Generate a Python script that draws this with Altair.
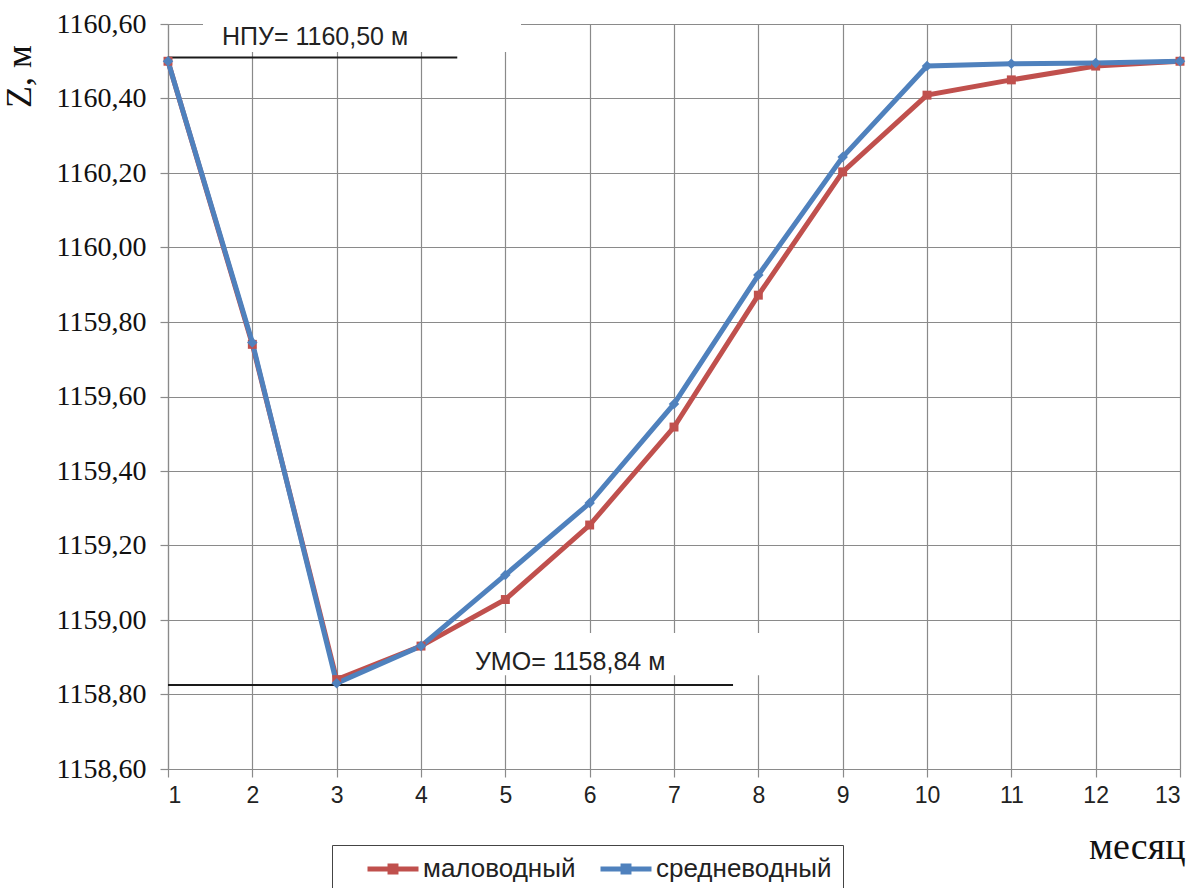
import altair as alt
import pandas as pd

months = list(range(1, 14))
low_water = [1160.50, 1159.74, 1158.84, 1158.93, 1159.055, 1159.255, 1159.518, 1159.872,
             1160.203, 1160.409, 1160.45, 1160.487, 1160.50]
mid_water = [1160.50, 1159.745, 1158.83, 1158.93, 1159.121, 1159.314, 1159.58, 1159.926,
             1160.243, 1160.487, 1160.493, 1160.495, 1160.50]
series_names = ["маловодный", "средневодный"]
series_colors = ["#c0504d", "#4f81bd"]
series_shapes = ["square", "diamond"]
y_ticks = [1158.6, 1158.8, 1159.0, 1159.2, 1159.4, 1159.6, 1159.8, 1160.0, 1160.2, 1160.4, 1160.6]

# annotation levels / extents (data units)
npu_text = "НПУ= 1160,50 м"
umo_text = "УМО= 1158,84 м"
npu_level = 1160.51
umo_level = 1158.8255
npu_line_x = [1, 4.43]
umo_line_x = [1, 7.70]
npu_box = [1.415, 5.186, 1160.525, 1160.664]
umo_box = [4.10, 8.08, 1158.852, 1158.965]
npu_text_pos = [1.64, 1160.544]
umo_text_pos = [4.64, 1158.866]

rows = []
for m, a, b in zip(months, low_water, mid_water):
    rows.append({"month": m, "z": a, "series": series_names[0]})
    rows.append({"month": m, "z": b, "series": series_names[1]})
df = pd.DataFrame(rows)

xscale = alt.Scale(domain=[1, 13], nice=False, zero=False)
yscale = alt.Scale(domain=[1158.6, 1160.6], nice=False, zero=False)
cscale = alt.Scale(domain=series_names, range=series_colors)

x_axis = alt.Axis(values=months, format="d", grid=True, gridColor="#8a8a8a", gridWidth=1.2,
                  domainColor="#8a8a8a", domainWidth=1.2, tickColor="#8a8a8a", tickWidth=1.2,
                  tickSize=8, labelFont="Liberation Sans", labelFontSize=23, labelColor="#222",
                  labelPadding=7, title="месяц", titleFont="Liberation Serif", titleFontSize=38,
                  titleFontWeight="normal", titleColor="#111", titleX=1017, titleY=89,
                  titleAlign="right", titleBaseline="alphabetic")
y_axis = alt.Axis(values=y_ticks, grid=True, gridColor="#8a8a8a", gridWidth=1.2,
                  domainColor="#8a8a8a", domainWidth=1.2, tickColor="#8a8a8a", tickWidth=1.2,
                  tickSize=8, labelFont="Liberation Serif", labelFontSize=28, labelColor="#111",
                  labelPadding=14,
                  labelExpr="replace(format(datum.value, '.2f'), '.', ',')",
                  title="Z, м", titleFont="Liberation Serif", titleFontSize=36,
                  titleFontWeight="normal", titleColor="#111", titleX=-130, titleY=52,
                  titleAngle=270, titleAlign="center", titleBaseline="bottom")

base = alt.Chart(df)

lines = base.mark_line(strokeWidth=5).encode(
    x=alt.X("month:Q", scale=xscale, axis=x_axis),
    y=alt.Y("z:Q", scale=yscale, axis=y_axis),
    color=alt.Color("series:N", scale=cscale, sort=series_names,
                    legend=alt.Legend(
                        title=None, orient="none", legendX=164, legendY=821,
                        direction="horizontal", fillColor="white", strokeColor="#444",
                        padding=11, symbolType="M-3,0H3M-0.35,-0.35H0.35V0.35H-0.35Z",
                        symbolSize=289, symbolStrokeWidth=5, symbolOffset=37,
                        labelOffset=17, columnPadding=0, labelLimit=400,
                        labelFont="Liberation Sans", labelFontSize=26, labelColor="#222")),
)

point_layers = []
for name, col, shp in zip(series_names, series_colors, series_shapes):
    point_layers.append(
        base.transform_filter(alt.datum.series == name)
        .mark_point(filled=True, opacity=1, size=80 if shp == "square" else 110, shape=shp, color=col)
        .encode(x=alt.X("month:Q", scale=xscale), y=alt.Y("z:Q", scale=yscale))
    )

boxes_df = pd.DataFrame([
    {"x": npu_box[0], "x2": npu_box[1], "y": npu_box[2], "y2": npu_box[3]},
    {"x": umo_box[0], "x2": umo_box[1], "y": umo_box[2], "y2": umo_box[3]},
])
boxes = alt.Chart(boxes_df).mark_rect(color="white").encode(
    x=alt.X("x:Q", scale=xscale), x2="x2:Q",
    y=alt.Y("y:Q", scale=yscale), y2="y2:Q")

rules_df = pd.DataFrame([
    {"x": npu_line_x[0], "x2": npu_line_x[1], "y": npu_level},
    {"x": umo_line_x[0], "x2": umo_line_x[1], "y": umo_level},
])
rules = alt.Chart(rules_df).mark_rule(color="#1a1a1a", strokeWidth=2).encode(
    x=alt.X("x:Q", scale=xscale), x2="x2:Q",
    y=alt.Y("y:Q", scale=yscale))

texts_df = pd.DataFrame([
    {"x": npu_text_pos[0], "y": npu_text_pos[1], "t": npu_text},
    {"x": umo_text_pos[0], "y": umo_text_pos[1], "t": umo_text},
])
texts = alt.Chart(texts_df).mark_text(align="left", baseline="alphabetic", font="Liberation Sans",
                                      fontSize=25, color="#222").encode(
    x=alt.X("x:Q", scale=xscale), y=alt.Y("y:Q", scale=yscale), text="t:N")

chart = alt.layer(boxes, rules, texts, lines, *point_layers).properties(
    width=1012, height=745,
    padding={"left": 168, "top": 24, "right": 15, "bottom": 119},
    autosize=alt.AutoSizeParams(type="none"),
    background="white",
).configure_view(stroke=None)

chart.save("out.html", embed_options={"renderer": "svg", "actions": False})
